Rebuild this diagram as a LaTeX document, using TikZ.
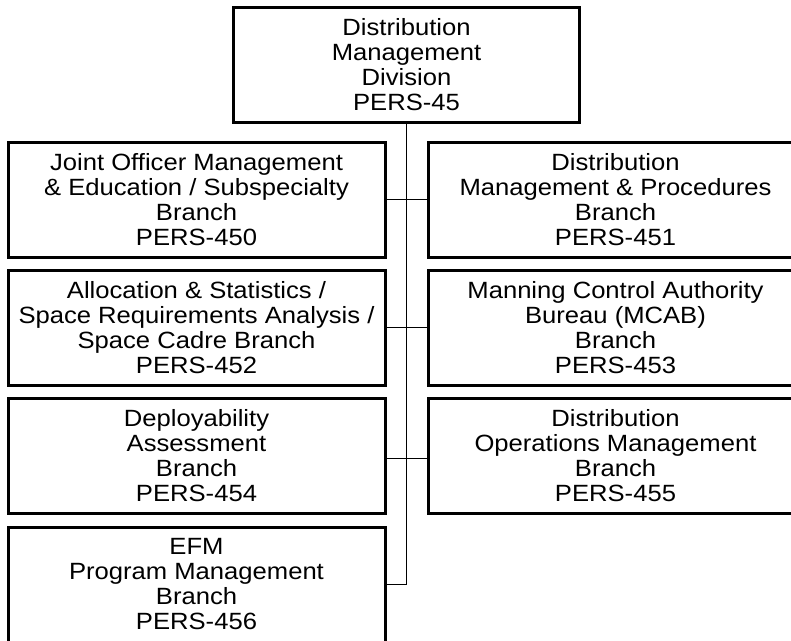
\documentclass[tikz,border=0pt]{standalone}
\usepackage{fontspec}
\setmainfont{Liberation Sans}[FakeStretch=1.09]
\begin{document}
\begin{tikzpicture}[x=1pt,y=-1pt,
  orgbox/.style={draw=black, line width=3pt, rectangle, align=center, inner sep=0pt,
    minimum height=115pt, font=\fontsize{23.5}{25}\selectfont},
  leftbox/.style={orgbox, minimum width=377pt},
  rightbox/.style={orgbox, minimum width=375pt},
  link/.style={draw=black, line width=1.8pt}]
\useasboundingbox (0,0) rectangle (791,640);
\clip (0,0) rectangle (791,640);
\node[orgbox, minimum width=346pt, minimum height=114.5pt] (top) at (406.5,64.75)
  {Distribution\\Management\\Division\\PERS-45};
\node[leftbox] (l1) at (196.5,199.5) {Joint Officer Management\\\& Education / Subspecialty\\Branch\\PERS-450};
\node[rightbox] (r1) at (615.5,199.5) {Distribution\\Management \& Procedures\\Branch\\PERS-451};
\node[leftbox] (l2) at (196.5,327.5) {Allocation \& Statistics /\\Space Requirements Analysis /\\Space Cadre Branch\\PERS-452};
\node[rightbox] (r2) at (615.5,327.5) {Manning Control Authority\\Bureau (MCAB)\\Branch\\PERS-453};
\node[leftbox] (l3) at (196.5,455.5) {Deployability\\Assessment\\Branch\\PERS-454};
\node[rightbox] (r3) at (615.5,455.5) {Distribution\\Operations Management\\Branch\\PERS-455};
\node[leftbox] (l4) at (196.5,584.5) {EFM\\Program Management\\Branch\\PERS-456};
\coordinate (bend) at (top.south |- l4.east);
\draw[link] (top.south) -- (bend) -- (l4.east);
\draw[link] (l1.east) -- (r1.west);
\draw[link] (l2.east) -- (r2.west);
\draw[link] ([yshift=-3pt]l3.east) -- ([yshift=-3pt]r3.west);
\end{tikzpicture}
\end{document}
